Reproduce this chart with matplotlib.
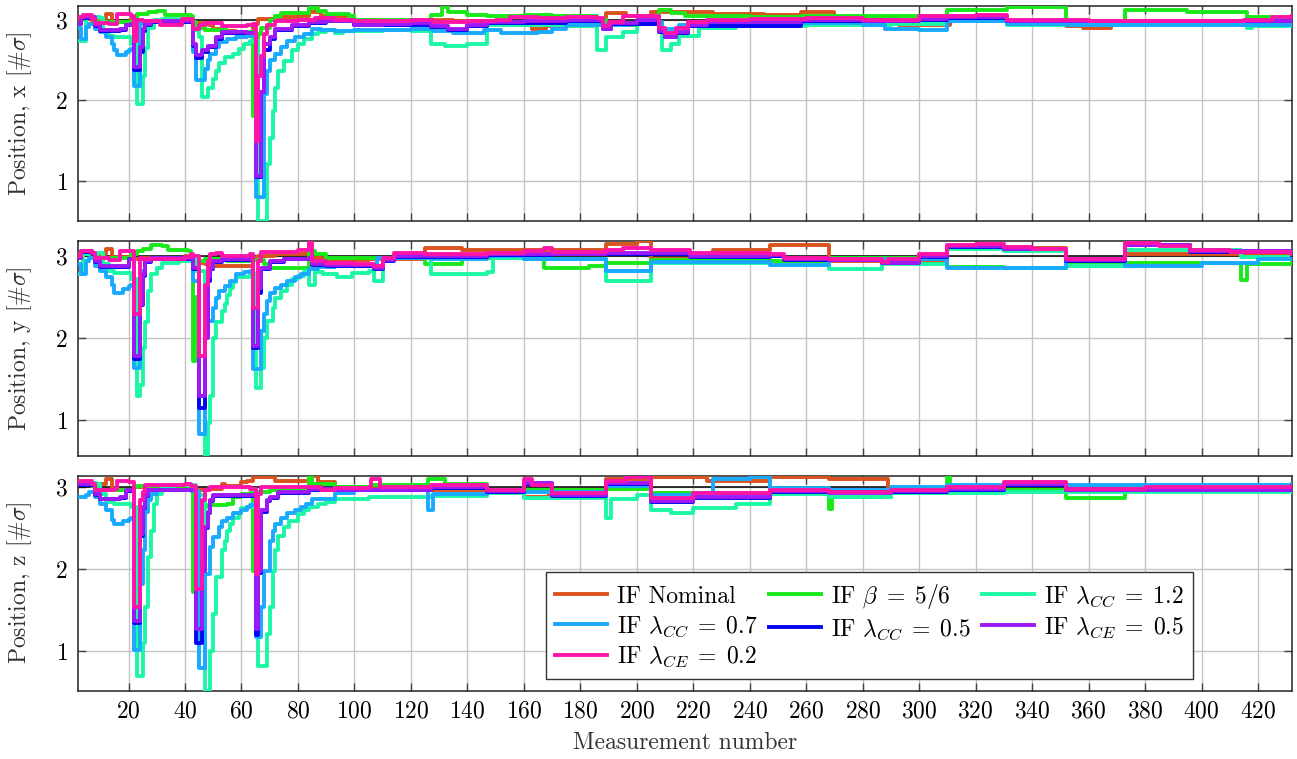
import matplotlib
matplotlib.use('Agg')
import matplotlib.pyplot as plt

plt.rcParams['font.family'] = 'serif'
plt.rcParams['font.serif'] = ['cmr10']
plt.rcParams['mathtext.fontset'] = 'cm'
plt.rcParams['axes.formatter.use_mathtext'] = True
plt.rcParams['font.size'] = 17

# series order: nominal, beta, cc 1.2, cc 0.7, cc 0.5, ce 0.5, ce 0.2
labels = ['IF Nominal', r'IF $\beta\;=\;5/6$', r'IF $\lambda_{CC}\;=\;1.2$',
          r'IF $\lambda_{CC}\;=\;0.7$', r'IF $\lambda_{CC}\;=\;0.5$',
          r'IF $\lambda_{CE}\;=\;0.5$', r'IF $\lambda_{CE}\;=\;0.2$']
colores = ['#D9531E', '#1AE81A', '#1CF7A6', '#19A9FF', '#0505F0', '#9D19F5', '#FF14AA']

# ---------------- Position x ----------------
nom_x = [(2, 3.01), (7, 2.99), (12, 3.07), (14, 2.97), (21, 3.01), (23, 2.99), (32, 2.98), (43, 2.96),
         (48, 2.93), (50, 2.89), (54, 2.86), (58, 2.83), (62, 2.80), (64, 2.95), (66, 3.01), (72, 3.03),
         (80, 3.04), (84, 3.09), (88, 3.04), (92, 3.05), (97, 3.0), (110, 2.98), (120, 3.0), (135, 2.98),
         (150, 2.97), (157, 2.93), (163, 2.89), (168, 2.92), (180, 2.93), (189, 3.08), (196, 3.05),
         (205, 3.1), (215, 3.09), (227, 3.07), (245, 3.06), (258, 3.1), (270, 3.03), (283, 3.02),
         (293, 2.94), (311, 3.0), (331, 2.97), (343, 2.96), (352, 2.92), (358, 2.9), (368, 2.95),
         (385, 2.96), (432, 2.97)]
beta_x = [(2, 3.03), (8, 2.97), (22, 3.0), (23, 3.07), (27, 3.09), (30, 3.11), (33, 3.06), (42, 3.05),
          (43, 2.97), (44, 2.9), (47, 2.87), (55, 2.85), (63, 2.85), (64, 1.81), (65, 2.5), (66, 2.82),
          (67, 2.9), (70, 3.0), (72, 3.05), (74, 3.08), (84, 3.15), (87, 3.11), (90, 3.07), (98, 3.05),
          (100, 3.0), (118, 3.0), (127, 3.06), (131, 3.16), (133, 3.09), (140, 3.06), (147, 3.05),
          (160, 3.06), (170, 3.04), (186, 3.0), (189, 2.93), (200, 2.95), (208, 3.12), (212, 3.08),
          (217, 3.04), (240, 3.03), (258, 3.04), (288, 3.05), (310, 3.12), (331, 3.16), (352, 2.96),
          (365, 2.93), (373, 3.12), (395, 3.1), (416, 3.03), (432, 3.03)]
cc12_x = [(2, 2.74), (5, 3.03), (10, 3.02), (11, 2.87), (13, 2.8), (15, 2.79), (20, 2.79), (21, 2.7),
          (23, 1.96), (25, 2.3), (26, 2.65), (27, 2.9), (29, 3.0), (32, 3.01), (42, 3.01), (43, 2.87),
          (45, 2.78), (46, 2.04), (48, 2.15), (50, 2.26), (51, 2.37), (52, 2.47), (54, 2.54), (57, 2.58),
          (59, 2.64), (61, 2.7), (63, 2.74), (66, 0.51), (69, 1.21), (70, 1.54), (71, 1.87), (72, 2.16),
          (73, 2.37), (75, 2.49), (78, 2.62), (80, 2.7), (82, 2.76), (85, 2.82), (87, 2.85), (90, 2.87),
          (93, 2.83), (96, 2.86), (110, 2.87), (120, 2.86), (127, 2.7), (132, 2.67), (140, 2.7),
          (147, 2.93), (160, 2.93), (175, 2.92), (186, 2.62), (189, 2.78), (195, 2.85), (200, 2.95),
          (209, 2.62), (212, 2.7), (215, 2.8), (222, 2.9), (235, 2.92), (260, 2.94), (290, 2.95),
          (310, 2.98), (331, 2.94), (360, 2.94), (380, 2.93), (400, 2.93), (416, 2.9), (418, 2.92),
          (432, 2.93)]
cc07_x = [(2, 2.9), (3, 2.76), (5, 2.91), (6, 2.95), (8, 2.89), (10, 2.85), (12, 2.78), (14, 2.7),
          (15, 2.62), (16, 2.56), (18, 2.56), (19, 2.6), (20, 2.62), (21, 2.64), (22, 2.18), (24, 2.95),
          (26, 2.98), (42, 3.0), (43, 2.6), (44, 2.25), (47, 2.39), (48, 2.5), (49, 2.58), (51, 2.66),
          (52, 2.72), (55, 2.76), (58, 2.79), (62, 2.8), (64, 2.82), (65, 0.8), (68, 2.08), (69, 2.36),
          (70, 2.5), (72, 2.58), (74, 2.66), (76, 2.74), (79, 2.79), (82, 2.82), (85, 2.89), (88, 2.87),
          (93, 2.86), (100, 2.87), (120, 2.88), (128, 2.86), (135, 2.83), (146, 2.87), (152, 2.84),
          (165, 2.85), (170, 2.88), (175, 2.93), (198, 2.95), (205, 2.97), (209, 2.89), (215, 2.93),
          (220, 2.95), (258, 2.96), (280, 2.93), (288, 2.88), (300, 2.87), (310, 2.99), (331, 2.95),
          (352, 2.94), (432, 2.94)]
cc05_x = [(2, 2.95), (3, 3.02), (7, 3.02), (8, 2.92), (10, 2.86), (17, 2.87), (19, 2.93), (21, 2.94),
          (22, 2.38), (24, 2.6), (25, 2.86), (26, 2.94), (28, 2.97), (42, 2.98), (43, 2.68), (44, 2.52),
          (46, 2.6), (48, 2.66), (51, 2.76), (53, 2.84), (64, 2.83), (65, 1.05), (67, 2.1), (68, 2.62),
          (70, 2.76), (72, 2.87), (78, 2.92), (84, 2.96), (90, 2.98), (100, 2.93), (127, 2.91),
          (133, 2.87), (140, 2.92), (147, 2.96), (175, 2.99), (188, 2.88), (191, 2.95), (208, 2.85),
          (210, 2.78), (214, 2.84), (218, 2.92), (258, 2.99), (300, 3.0), (310, 3.02), (331, 2.98),
          (432, 3.0)]
ce05_x = [(2, 2.95), (3, 3.03), (7, 3.03), (8, 2.93), (10, 2.87), (17, 2.88), (19, 2.94), (21, 2.95),
          (22, 2.41), (24, 2.66), (25, 2.89), (26, 2.95), (28, 2.98), (42, 2.99), (43, 2.7), (44, 2.56),
          (46, 2.63), (48, 2.68), (51, 2.78), (53, 2.85), (62, 2.84), (64, 2.84), (65, 1.07), (67, 2.1),
          (68, 2.7), (70, 2.78), (72, 2.89), (78, 2.93), (84, 2.97), (90, 2.99), (100, 2.94), (110, 2.95),
          (120, 2.96), (127, 2.92), (133, 2.88), (140, 2.93), (147, 2.97), (160, 2.98), (175, 3.0),
          (186, 3.0), (188, 2.89), (191, 2.96), (200, 3.0), (208, 2.86), (210, 2.79), (214, 2.85),
          (218, 2.93), (225, 2.97), (258, 3.0), (280, 2.99), (300, 3.01), (310, 3.03), (331, 2.99),
          (360, 2.98), (400, 2.98), (432, 3.01)]
ce02_x = [(2, 3.03), (4, 3.06), (7, 3.01), (8, 2.96), (13, 2.95), (16, 3.07), (21, 3.05), (22, 2.74),
          (23, 3.0), (25, 2.99), (31, 2.94), (39, 3.01), (43, 2.88), (45, 2.93), (47, 2.96), (53, 2.92),
          (62, 2.93), (64, 2.95), (65, 1.5), (66, 2.3), (67, 2.55), (68, 2.82), (69, 2.93), (72, 2.98),
          (80, 3.0), (86, 3.02), (93, 3.0), (100, 2.99), (110, 2.98), (120, 3.0), (128, 2.97),
          (140, 2.98), (150, 3.0), (155, 3.03), (165, 3.02), (175, 3.03), (186, 3.02), (188, 2.92),
          (190, 2.97), (195, 3.04), (205, 3.05), (208, 2.9), (210, 2.84), (214, 2.9), (218, 2.97),
          (225, 3.0), (240, 3.01), (260, 3.02), (280, 3.0), (300, 3.04), (320, 3.06), (331, 3.0),
          (360, 2.99), (380, 2.98), (400, 2.99), (415, 3.0), (425, 3.03), (432, 3.04)]

# ---------------- Position y ----------------
nom_y = [(2, 3.02), (12, 3.08), (14, 2.99), (22, 2.96), (25, 2.98), (40, 3.0), (43, 2.92), (47, 2.9),
         (50, 2.88), (63, 2.88), (64, 2.98), (66, 3.0), (72, 3.03), (83, 3.04), (84, 3.2), (85, 2.98),
         (90, 2.95), (105, 2.96), (125, 3.1), (138, 3.07), (160, 3.07), (189, 3.15), (200, 3.18),
         (205, 2.96), (227, 3.07), (247, 3.13), (268, 2.94), (310, 3.1), (352, 2.94), (373, 3.03),
         (432, 3.02)]
beta_y = [(2, 2.98), (3, 3.06), (7, 3.03), (9, 2.98), (20, 2.98), (21, 3.02), (23, 3.06), (25, 3.08),
          (28, 3.13), (32, 3.12), (34, 3.07), (41, 3.06), (42, 3.0), (43, 1.72), (44, 2.5), (45, 2.94),
          (47, 2.96), (55, 2.94), (63, 2.95), (68, 2.9), (70, 2.85), (83, 2.84), (84, 3.06), (86, 3.02),
          (90, 2.98), (110, 2.98), (125, 2.9), (138, 2.98), (160, 2.96), (167, 2.85), (183, 2.88),
          (189, 2.92), (205, 2.95), (247, 2.94), (268, 2.98), (310, 2.87), (330, 2.85), (352, 2.93),
          (373, 2.92), (413, 2.92), (414, 2.71), (416, 2.9), (432, 2.92)]
cc12_y = [(2, 2.78), (4, 3.02), (9, 3.04), (11, 2.9), (13, 2.82), (15, 2.79), (20, 2.79), (21, 2.72),
          (23, 1.29), (24, 1.43), (25, 1.88), (26, 2.2), (27, 2.57), (28, 2.78), (30, 2.86), (32, 2.92),
          (38, 2.94), (42, 2.95), (44, 2.82), (47, 0.58), (48, 0.96), (49, 1.29), (50, 2.0), (51, 2.2),
          (53, 2.33), (54, 2.41), (55, 2.53), (56, 2.61), (57, 2.69), (58, 2.74), (61, 2.75), (63, 2.78),
          (65, 1.39), (67, 1.63), (68, 2.0), (69, 2.21), (71, 2.37), (72, 2.49), (74, 2.57), (76, 2.65),
          (78, 2.72), (80, 2.76), (82, 2.82), (84, 2.65), (86, 2.8), (89, 2.78), (94, 2.74), (99, 2.79),
          (105, 2.82), (107, 2.7), (110, 2.98), (125, 2.99), (127, 2.78), (147, 2.8), (149, 2.98),
          (160, 2.96), (189, 2.7), (205, 2.92), (247, 2.89), (268, 2.84), (287, 2.9), (310, 3.08),
          (330, 3.06), (352, 2.88), (373, 3.07), (414, 2.99), (432, 3.0)]
cc07_y = [(2, 2.9), (3, 2.78), (5, 2.94), (6, 2.98), (8, 2.88), (10, 2.82), (12, 2.74), (14, 2.65),
          (15, 2.55), (18, 2.6), (20, 2.63), (21, 2.65), (22, 1.64), (24, 2.41), (25, 2.82), (26, 2.94),
          (28, 2.98), (42, 2.98), (43, 2.7), (45, 0.83), (47, 2.03), (48, 2.21), (50, 2.37), (51, 2.49),
          (52, 2.57), (54, 2.63), (56, 2.7), (58, 2.78), (61, 2.8), (63, 2.82), (64, 1.62), (67, 2.09),
          (68, 2.29), (69, 2.45), (70, 2.55), (72, 2.61), (74, 2.65), (76, 2.7), (79, 2.74), (81, 2.78),
          (84, 2.84), (87, 2.87), (93, 2.9), (99, 2.88), (108, 2.98), (127, 2.96), (147, 3.0),
          (160, 2.97), (189, 2.82), (205, 2.93), (247, 2.89), (268, 2.97), (310, 2.86), (352, 2.96),
          (373, 2.88), (400, 2.92), (420, 2.97), (432, 2.98)]
cc05_y = [(2, 2.98), (3, 3.05), (7, 3.03), (8, 2.93), (10, 2.87), (19, 2.87), (20, 2.96), (22, 1.75),
          (24, 2.4), (25, 2.76), (26, 2.93), (28, 2.97), (42, 2.99), (43, 2.84), (45, 1.15), (47, 2.08),
          (48, 2.7), (49, 2.84), (50, 2.93), (53, 2.95), (63, 2.96), (64, 1.88), (66, 2.55), (67, 2.84),
          (70, 2.93), (75, 2.96), (84, 2.97), (85, 2.89), (90, 2.88), (107, 2.84), (110, 2.94),
          (114, 2.99), (125, 2.99), (147, 3.01), (170, 3.02), (189, 3.03), (205, 3.03), (219, 2.99),
          (247, 3.0), (252, 2.95), (287, 2.91), (300, 2.99), (310, 3.11), (330, 3.08), (352, 2.94),
          (373, 3.13), (396, 3.05), (432, 3.01)]
ce05_y = [(2, 2.98), (3, 3.06), (7, 3.04), (8, 2.94), (10, 2.88), (19, 2.88), (20, 2.97), (22, 1.78),
          (24, 2.41), (25, 2.78), (26, 2.94), (28, 2.98), (42, 3.0), (43, 2.86), (45, 1.29), (47, 2.0),
          (48, 2.74), (49, 2.86), (50, 2.94), (53, 2.96), (63, 2.97), (64, 1.9), (66, 2.61), (67, 2.86),
          (70, 2.94), (75, 2.97), (84, 2.98), (85, 2.9), (90, 2.89), (107, 2.85), (110, 2.95),
          (114, 3.0), (125, 3.0), (147, 3.02), (160, 3.03), (189, 3.04), (205, 3.04), (219, 3.0),
          (247, 3.01), (252, 2.96), (268, 2.95), (287, 2.92), (300, 3.0), (310, 3.12), (330, 3.09),
          (352, 2.95), (373, 3.14), (396, 3.06), (432, 3.02)]
ce02_y = [(2, 3.0), (3, 3.06), (7, 3.04), (8, 2.98), (13, 2.95), (17, 3.06), (21, 3.06), (22, 2.29),
          (24, 2.98), (25, 2.96), (40, 2.99), (42, 3.02), (43, 3.0), (45, 1.78), (47, 2.65), (48, 2.94),
          (49, 3.02), (51, 3.04), (53, 3.0), (63, 3.02), (64, 2.37), (66, 2.94), (67, 3.05), (80, 3.07),
          (84, 3.18), (85, 2.94), (90, 2.92), (100, 2.9), (107, 2.88), (110, 2.98), (114, 3.04),
          (125, 3.03), (147, 3.04), (160, 3.06), (167, 3.1), (170, 3.05), (189, 3.07), (195, 3.1),
          (205, 3.07), (219, 3.04), (247, 3.03), (252, 2.98), (268, 2.96), (287, 2.93), (289, 2.96),
          (300, 3.03), (310, 3.14), (320, 3.15), (330, 3.11), (340, 3.09), (352, 2.96), (373, 3.16),
          (385, 3.12), (396, 3.07), (410, 3.05), (432, 3.03)]

# ---------------- Position z ----------------
nom_z = [(2, 3.04), (12, 3.1), (14, 2.97), (22, 3.0), (42, 3.01), (43, 2.96), (48, 2.98), (53, 3.04),
         (54, 3.02), (60, 3.06), (62, 3.08), (64, 3.12), (72, 3.07), (84, 3.14), (87, 3.06), (93, 3.0),
         (106, 3.02), (125, 2.96), (147, 2.93), (160, 2.88), (169, 2.96), (189, 3.1), (205, 3.12),
         (225, 3.07), (247, 3.12), (268, 3.1), (289, 2.98), (330, 3.05), (352, 2.96), (432, 2.95)]
beta_z = [(2, 3.04), (7, 3.02), (9, 2.96), (21, 2.96), (22, 3.0), (23, 3.01), (42, 3.02), (43, 1.72),
          (44, 2.35), (46, 2.76), (48, 2.78), (55, 2.8), (57, 2.88), (60, 2.92), (63, 2.93), (64, 1.98),
          (65, 2.8), (66, 2.94), (70, 2.96), (84, 3.12), (85, 3.04), (93, 3.0), (106, 3.03), (126, 3.1),
          (132, 3.04), (147, 2.97), (189, 2.98), (205, 2.93), (247, 2.99), (268, 2.73), (269, 2.88),
          (290, 2.93), (310, 3.12), (311, 2.98), (330, 2.96), (352, 2.87), (373, 3.02), (400, 3.03),
          (432, 3.04)]
cc12_z = [(2, 3.08), (4, 3.05), (9, 3.04), (10, 2.92), (12, 2.82), (15, 2.8), (20, 2.79), (21, 2.76),
          (23, 0.7), (25, 1.1), (26, 1.54), (27, 2.15), (28, 2.47), (29, 2.8), (30, 2.92), (32, 3.01),
          (36, 3.03), (42, 3.03), (44, 2.9), (47, 0.52), (49, 1.0), (50, 1.46), (51, 1.9), (53, 2.23),
          (54, 2.35), (55, 2.47), (56, 2.55), (57, 2.63), (59, 2.69), (60, 2.74), (62, 2.76), (64, 2.8),
          (66, 0.82), (69, 1.21), (70, 1.54), (71, 1.98), (72, 2.23), (73, 2.41), (75, 2.51), (77, 2.59),
          (80, 2.67), (82, 2.72), (84, 2.76), (87, 2.8), (90, 2.82), (93, 2.85), (105, 2.88),
          (127, 2.89), (147, 2.93), (160, 2.87), (189, 2.63), (191, 2.85), (200, 2.9), (205, 2.72),
          (212, 2.68), (220, 2.74), (235, 2.8), (247, 2.92), (268, 2.88), (290, 2.93), (330, 2.94),
          (432, 2.95)]
cc07_z = [(2, 2.88), (5, 2.9), (6, 2.94), (8, 2.88), (10, 2.8), (12, 2.72), (14, 2.6), (15, 2.55),
          (18, 2.59), (20, 2.61), (21, 2.63), (22, 1.01), (24, 1.82), (25, 2.23), (26, 2.7), (27, 2.84),
          (28, 2.92), (30, 2.96), (42, 2.95), (45, 0.8), (47, 1.94), (49, 2.27), (50, 2.39), (52, 2.51),
          (53, 2.59), (55, 2.63), (57, 2.68), (60, 2.72), (62, 2.76), (63, 2.78), (65, 1.17), (67, 1.54),
          (68, 1.98), (70, 2.35), (71, 2.47), (72, 2.55), (74, 2.63), (76, 2.68), (79, 2.72), (81, 2.76),
          (83, 2.8), (85, 2.86), (93, 2.93), (100, 2.96), (126, 2.72), (128, 2.92), (147, 2.94),
          (189, 3.02), (205, 2.9), (227, 3.1), (240, 3.12), (247, 2.99), (268, 2.96), (290, 3.0),
          (310, 3.03), (432, 3.04)]
cc05_z = [(2, 3.03), (7, 3.03), (8, 2.91), (10, 2.85), (17, 2.87), (19, 2.95), (21, 2.95), (22, 1.35),
          (24, 2.4), (25, 2.74), (26, 2.89), (27, 2.96), (42, 2.96), (44, 1.1), (46, 2.1), (47, 2.5),
          (48, 2.68), (49, 2.83), (50, 2.89), (63, 2.89), (65, 1.2), (66, 1.95), (67, 2.7), (69, 2.83),
          (70, 2.87), (73, 2.93), (84, 2.97), (93, 2.96), (127, 2.99), (147, 2.94), (160, 3.04),
          (170, 2.89), (189, 3.04), (205, 2.82), (220, 2.87), (247, 2.94), (290, 2.94), (310, 2.97),
          (330, 3.03), (352, 2.96), (432, 2.99)]
ce05_z = [(2, 3.04), (7, 3.04), (8, 2.92), (10, 2.86), (17, 2.88), (19, 2.96), (21, 2.96), (22, 1.37),
          (24, 2.43), (25, 2.76), (26, 2.9), (27, 2.97), (42, 2.97), (44, 1.27), (46, 1.98), (47, 2.52),
          (48, 2.7), (49, 2.84), (50, 2.9), (63, 2.9), (65, 1.27), (66, 1.98), (67, 2.72), (69, 2.84),
          (70, 2.88), (73, 2.94), (84, 2.98), (93, 2.97), (127, 3.0), (147, 2.95), (160, 3.05),
          (170, 2.9), (189, 3.05), (205, 2.83), (220, 2.88), (247, 2.95), (268, 2.93), (290, 2.95),
          (310, 2.98), (330, 3.04), (352, 2.97), (432, 3.0)]
ce02_z = [(2, 3.08), (7, 3.04), (8, 2.97), (15, 2.98), (16, 3.08), (20, 3.06), (22, 1.54), (24, 2.84),
          (25, 2.94), (26, 3.03), (40, 3.04), (42, 3.02), (44, 1.76), (46, 2.84), (47, 2.96), (49, 3.0),
          (63, 2.98), (65, 1.94), (66, 2.92), (67, 3.0), (85, 3.0), (88, 2.96), (93, 2.99), (105, 3.0),
          (106, 3.1), (109, 3.0), (127, 3.03), (147, 2.97), (160, 3.1), (163, 3.03), (170, 2.93),
          (189, 3.08), (196, 3.12), (205, 2.87), (220, 2.93), (247, 2.97), (268, 2.94), (290, 2.96),
          (310, 3.0), (330, 3.06), (352, 2.98), (380, 3.0), (432, 3.01)]

paneles = [
    ('x', [nom_x, beta_x, cc12_x, cc07_x, cc05_x, ce05_x, ce02_x], (0.51, 3.17)),
    ('y', [nom_y, beta_y, cc12_y, cc07_y, cc05_y, ce05_y, ce02_y], (0.56, 3.18)),
    ('z', [nom_z, beta_z, cc12_z, cc07_z, cc05_z, ce05_z, ce02_z], (0.52, 3.14)),
]
posiciones = [(0.0599, 0.7092, 0.9362, 0.2829),
              (0.0599, 0.3988, 0.9362, 0.2833),
              (0.0599, 0.0900, 0.9362, 0.2833)]

fig = plt.figure(figsize=(12.97, 7.59), dpi=100)

for k, (eje, series, ylim) in enumerate(paneles):
    ax = fig.add_axes(posiciones[k])
    lineas = []
    for datos, col, lab in zip(series, colores, labels):
        xs = [p[0] for p in datos]
        ys = [p[1] for p in datos]
        l, = ax.step(xs, ys, where='post', color=col, lw=2.8, label=lab, zorder=3)
        lineas.append(l)
    ax.axhline(3, color='black', lw=1.1, zorder=2)
    ax.set_xlim(2, 432)
    ax.set_ylim(*ylim)
    ax.set_xticks(range(20, 421, 20))
    ax.set_yticks([1, 2, 3])
    ax.grid(True, color='#c4c4c4', lw=1.0)
    ax.set_axisbelow(True)
    ax.tick_params(direction='in', top=True, right=True, length=6, width=1, color='#444444', pad=7)
    for s in ax.spines.values():
        s.set_color('#222222')
        s.set_linewidth(1.1)
    ax.set_ylabel(r'Position, ' + eje + r' $[\#\sigma]$', color='#333333')
    ax.yaxis.set_label_coords(-0.036, 0.5)
    if k < 2:
        ax.tick_params(labelbottom=False)
    else:
        ax.set_xlabel('Measurement number', color='#333333')
        ax.xaxis.set_label_coords(0.5, -0.19)
        # legend filled column by column, so reorder to read row by row
        orden = [0, 3, 6, 1, 4, 2, 5]
        leg = ax.legend([lineas[i] for i in orden], [labels[i] for i in orden], ncol=3,
                        loc='lower left', bbox_to_anchor=(0.376, 0.0), fancybox=False,
                        framealpha=1, edgecolor='#333333', handlelength=2.2, handletextpad=0.4,
                        columnspacing=0.5, labelspacing=0.28, borderpad=0.4, fontsize=17)
        leg.get_frame().set_linewidth(1.0)

fig.savefig('out.png', dpi=100)
